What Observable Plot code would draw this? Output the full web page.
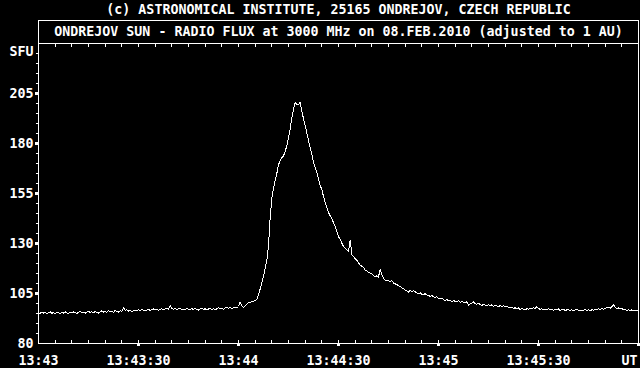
<!DOCTYPE html>
<html>
<head>
<meta charset="utf-8">
<script src="https://cdn.jsdelivr.net/npm/d3@7"></script>
<script src="https://cdn.jsdelivr.net/npm/@observablehq/plot@0.6"></script>
<style>
  html, body { margin: 0; padding: 0; background: #000; }
  #chart svg { display: block; }
</style>
</head>
<body>
<div id="chart"></div>
<script>
const headerTitle = "(c) ASTRONOMICAL INSTITUTE, 25165 ONDREJOV, CZECH REPUBLIC";
const boxTitle = "ONDREJOV SUN - RADIO FLUX at 3000 MHz on 08.FEB.2010 (adjusted to 1 AU)";
const yUnit = "SFU";
const xUnit = "UT";

// sampling: one reading every 0.5 s from 13:43:00 UT
const startTime = "2010-02-08T13:43:00Z";
const endTime = "2010-02-08T13:46:00Z";
const sampleStepSeconds = 0.5;

// flux in SFU, 20 samples (10 s) per row
const flux = [
  95.5, 95.0, 95.8, 95.2, 95.6, 94.9, 95.4, 95.9, 95.1, 95.5, 95.0, 95.7, 95.3, 94.8, 95.6, 95.2, 95.9, 95.3, 95.0, 95.6,
  95.2, 95.8, 95.4, 94.9, 95.6, 96.0, 95.3, 95.7, 95.1, 95.8, 96.2, 95.5, 95.9, 95.3, 96.1, 95.6, 95.2, 95.9, 96.3, 95.7,
  96.0, 95.5, 96.4, 95.8, 96.2, 95.6, 96.5, 96.0, 95.7, 96.3, 96.1, 97.8, 96.6, 96.9, 96.2, 96.7, 96.0, 96.5, 96.8, 96.3,
  96.9, 96.4, 97.0, 96.6, 96.2, 96.8, 97.1, 96.5, 96.9, 97.3, 96.7, 97.2, 96.6, 97.0, 97.4, 96.8, 97.2, 97.6, 97.0, 98.9,
  97.5, 97.0, 97.8, 96.9, 97.3, 97.7, 96.8, 97.2, 97.0, 97.6, 97.2, 96.9, 97.4, 97.0, 97.5, 97.1, 96.7, 97.3, 97.6, 97.0,
  97.4, 96.8, 97.2, 97.8, 96.9, 97.5, 97.0, 97.3, 97.9, 97.2, 97.6, 97.0, 97.8, 98.3, 97.6, 98.0, 97.4, 97.9, 98.3, 97.8,
  98.5, 100.7, 99.0, 98.0, 98.8, 99.5, 100.7, 100.3, 101.0, 101.2, 101.5, 102.0, 104.3, 107.3, 110.5, 113.5, 117.5, 121.5, 129.0, 143.0,
  152.5, 157.5, 161.5, 165.0, 169.3, 171.5, 172.8, 173.8, 176.0, 179.0, 183.0, 187.0, 193.0, 197.0, 200.8, 199.3, 199.6, 200.5, 196.0, 192.5,
  189.0, 185.3, 181.5, 178.0, 174.5, 170.5, 167.8, 165.5, 162.5, 159.0, 157.0, 153.5, 150.5, 148.0, 145.5, 143.8, 142.6, 140.3, 138.5, 136.2,
  133.5, 132.0, 130.2, 128.5, 127.5, 126.8, 126.2, 131.8, 124.5, 123.4, 122.5, 121.7, 120.3, 119.3, 118.5, 118.0, 116.8, 116.2, 115.7, 115.2,
  114.8, 114.0, 113.4, 113.8, 113.2, 117.3, 114.5, 112.5, 111.8, 111.2, 111.6, 110.8, 111.5, 110.2, 109.8, 109.4, 109.0, 108.5, 107.8, 107.3,
  106.8, 106.2, 105.7, 106.6, 105.8, 106.5, 106.0, 105.2, 104.8, 105.4, 104.6, 104.4, 105.0, 104.2, 104.0, 103.6, 104.1, 103.3, 102.9, 103.4,
  102.6, 102.2, 102.8, 101.9, 101.5, 102.2, 101.3, 101.6, 101.0, 101.5, 101.1, 100.8, 101.4, 100.6, 101.0, 100.7, 100.2, 100.9, 99.2, 99.8,
  100.3, 100.8, 100.0, 99.6, 100.2, 99.4, 99.0, 99.7, 99.2, 98.8, 99.5, 99.0, 99.3, 98.6, 99.2, 98.8, 98.4, 99.0, 98.5, 98.9,
  98.2, 98.7, 98.0, 97.7, 98.3, 97.5, 97.9, 97.3, 97.8, 97.0, 97.6, 97.2, 96.8, 97.4, 97.1, 97.6, 97.2, 97.9, 97.6, 98.4,
  97.6, 97.0, 97.4, 96.8, 97.2, 96.9, 97.5, 96.7, 97.1, 96.6, 97.2, 96.8, 97.3, 96.5, 96.9, 97.2, 96.4, 96.8, 97.0, 96.5,
  96.9, 96.3, 96.7, 97.1, 96.5, 96.8, 96.2, 96.7, 97.0, 96.4, 96.8, 96.3, 96.9, 96.6, 97.2, 96.8, 97.3, 96.9, 97.6, 97.1,
  97.4, 97.9, 98.2, 97.6, 98.4, 99.4, 98.0, 97.5, 97.8, 97.2, 97.6, 96.8, 97.1, 96.5, 96.9, 96.4, 96.8, 96.3, 96.7, 96.5,
  96.6
];

// axis ticks
const yLabelTicks = [80, 105, 130, 155, 180, 205];
const yMajorTicks = [105, 130, 155, 180, 205];
const yMinorTicks = [85, 90, 95, 100, 110, 115, 120, 125, 135, 140, 145, 150, 160, 165, 170, 175, 185, 190, 195, 200, 210, 215, 220, 225];
const xLabelTimes = ["13:43:00", "13:43:30", "13:44:00", "13:44:30", "13:45:00", "13:45:30"];
const xLabelTexts = ["13:43", "13:43:30", "13:44", "13:44:30", "13:45", "13:45:30"];
const xMajorTimes = ["13:43:30", "13:44:00", "13:44:30", "13:45:00", "13:45:30", "13:46:00"];
const xMinorStepSeconds = 5;

const t0 = new Date(startTime);
const t1 = new Date(endTime);
const data = flux.map((v, i) => ({t: new Date(+t0 + i * sampleStepSeconds * 1000), v}));
const toDate = s => new Date(`2010-02-08T${s}Z`);
const xLabelDates = xLabelTimes.map(toDate);
const xMajorDates = xMajorTimes.map(toDate);
const xMinorDates = d3.utcSecond.every(xMinorStepSeconds).range(t0, new Date(+t1 + 1));
const labelOf = new Map(xLabelDates.map((d, i) => [+d, xLabelTexts[i]]));

const white = "#ffffff";
const font = "DejaVu Sans Mono";

const chart = Plot.plot({
  width: 640,
  height: 368,
  marginLeft: 38,
  marginRight: 2,
  marginTop: 43,
  marginBottom: 25,
  style: {background: "#000", color: white, fontFamily: font, fontSize: "13.3px", fontWeight: "bold"},
  x: {type: "utc", domain: [t0, t1]},
  y: {domain: [80, 230]},
  marks: [
    Plot.frame({stroke: white, insetTop: -23, shapeRendering: "crispEdges"}),
    Plot.frame({stroke: white, shapeRendering: "crispEdges"}),
    // x ticks
    Plot.axisX(xMinorDates, {anchor: "bottom", tickSize: 3, dy: -3, fill: "none", stroke: white, label: null, shapeRendering: "crispEdges"}),
    Plot.axisX(xMinorDates, {anchor: "top", tickSize: 3, dy: 3, fill: "none", stroke: white, label: null, shapeRendering: "crispEdges"}),
    Plot.axisX(xMajorDates, {anchor: "bottom", tickSize: 3, strokeWidth: 3, fill: "none", stroke: white, label: null, shapeRendering: "crispEdges"}),
    Plot.axisX(xLabelDates, {anchor: "bottom", tickSize: 0, tickPadding: 12, tickFormat: d => labelOf.get(+d), fill: white, label: null, fontSize: 13.3, fontWeight: "bold"}),
    Plot.axisX([t1], {anchor: "bottom", tickSize: 0, tickPadding: 12, dx: -9, tickFormat: () => xUnit, fill: white, label: null, fontSize: 13.3, fontWeight: "bold"}),
    // y ticks
    Plot.axisY(yMinorTicks, {anchor: "left", tickSize: 2, fill: "none", stroke: white, label: null, shapeRendering: "crispEdges"}),
    Plot.axisY(yMajorTicks, {anchor: "left", tickSize: 3, strokeWidth: 3, fill: "none", stroke: white, label: null, shapeRendering: "crispEdges"}),
    Plot.axisY(yLabelTicks, {anchor: "left", tickSize: 0, tickPadding: 5, tickFormat: d => String(d), fill: white, label: null, fontSize: 13.3, fontWeight: "bold"}),
    // titles
    Plot.text([boxTitle], {frameAnchor: "top", lineAnchor: "middle", dy: -12, text: d => d, fill: white, fontSize: 13.3, fontWeight: "bold"}),
    Plot.text([headerTitle], {frameAnchor: "top", lineAnchor: "middle", dy: -34, text: d => d, fill: white, fontSize: 13.3, fontWeight: "bold"}),
    Plot.text([yUnit], {frameAnchor: "top-left", lineAnchor: "middle", dx: -5, dy: 8, textAnchor: "end", text: d => d, fill: white, fontSize: 13.3, fontWeight: "bold"}),
    // signal
    Plot.line(data, {x: "t", y: "v", stroke: white, strokeWidth: 1, shapeRendering: "crispEdges"})
  ]
});
document.getElementById("chart").appendChild(chart);
</script>
</body>
</html>
